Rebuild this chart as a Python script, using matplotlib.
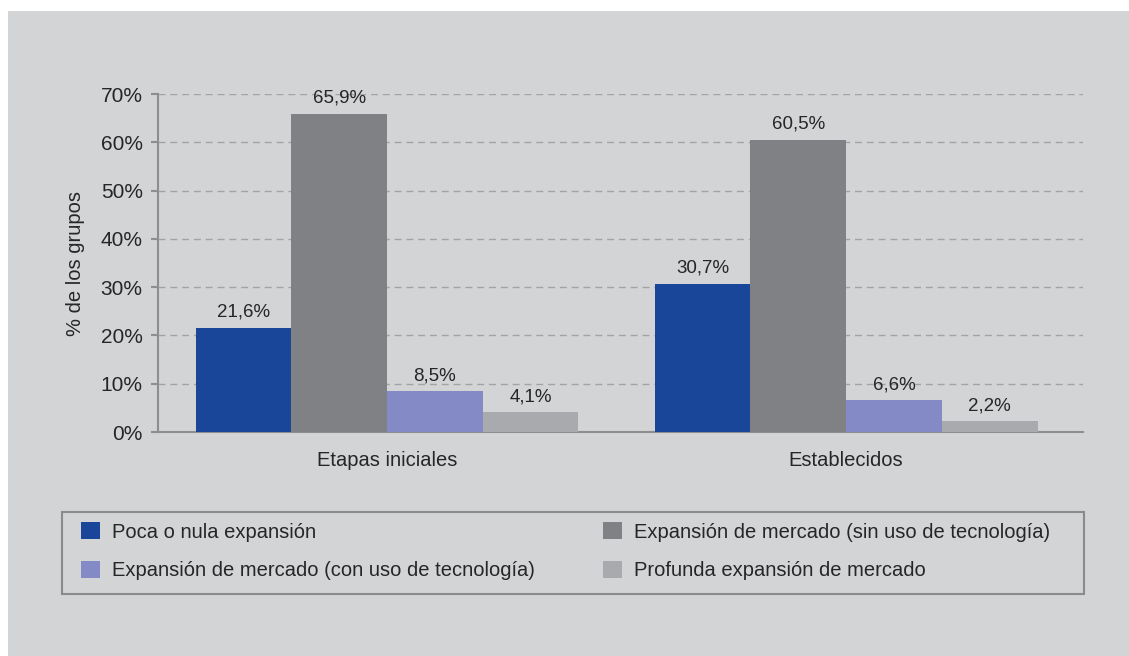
import matplotlib.pyplot as plt
from matplotlib.patches import Rectangle
import numpy as np

plt.rcParams['font.family'] = ['Liberation Sans', 'DejaVu Sans']

groups = ['Etapas iniciales', 'Establecidos']
series = ['Poca o nula expansión',
          'Expansión de mercado (sin uso de tecnología)',
          'Expansión de mercado (con uso de tecnología)',
          'Profunda expansión de mercado']
values = [
    [21.6, 30.7],
    [65.9, 60.5],
    [8.5, 6.6],
    [4.1, 2.2],
]
colors = ['#1a4699', '#808185', '#848ac5', '#a9aaad']
yticks = [0, 10, 20, 30, 40, 50, 60, 70]

bg = '#d3d4d6'
txt = '#262626'
axis_gray = '#8e8e8e'

fig = plt.figure(figsize=(11.29, 6.56), dpi=100, facecolor='white')
fig.patches.append(Rectangle((8 / 1129, 0), 1 - 8 / 1129, 1 - 11 / 656,
                             transform=fig.transFigure, facecolor=bg,
                             edgecolor='none', zorder=-10))

ax = fig.add_axes([158 / 1129, 1 - 432 / 656, 925 / 1129, 338 / 656])
ax.set_facecolor(bg)

x = np.arange(len(groups))
w = 0.2085
bars = []
for i, (vals, c, name) in enumerate(zip(values, colors, series)):
    b = ax.bar(x + (i - 1.5) * w, vals, w, color=c, label=name, zorder=3)
    bars.append(b)
    for rect, v in zip(b, vals):
        ax.annotate(f'{v:.1f}%'.replace('.', ','),
                    (rect.get_x() + rect.get_width() / 2, rect.get_height()),
                    xytext=(0, 5), textcoords='offset points',
                    ha='center', va='bottom', fontsize=13.5, color=txt)

ax.set_xlim(-0.499, 1.516)
ax.set_ylim(0, 70)
ax.set_yticks(yticks)
ax.set_yticklabels([f'{t}%' for t in yticks])
ax.set_xticks(x)
ax.set_xticklabels(groups)

ax.yaxis.grid(True, linestyle=(0, (5, 3.5)), color='#a3a3a3', linewidth=1, zorder=1)
ax.set_axisbelow(True)

for s in ['top', 'right']:
    ax.spines[s].set_visible(False)
for s in ['left', 'bottom']:
    ax.spines[s].set_color(axis_gray)
    ax.spines[s].set_linewidth(1.5)

ax.tick_params(axis='y', length=5, width=1.5, color=axis_gray, pad=6,
               labelsize=15, labelcolor=txt)
ax.tick_params(axis='x', length=0, pad=14, labelsize=14.5, labelcolor=txt)
ax.set_ylabel('% de los grupos', fontsize=14.5, color=txt, labelpad=11)

# legend with a separate frame box
fig.patches.append(Rectangle((62 / 1129, 1 - 594 / 656), (1084 - 62) / 1129, (594 - 512) / 656,
                             transform=fig.transFigure, facecolor='none',
                             edgecolor='#8a8a8a', linewidth=1.5, zorder=5))
handles = [bars[0], bars[2], bars[1], bars[3]]
labels = [series[0], series[2], series[1], series[3]]
fig.legend(handles, labels, ncol=2, frameon=False, fontsize=14.5,
           loc='upper left', bbox_to_anchor=(81 / 1129, 1 - 522 / 656),
           borderaxespad=0, borderpad=0,
           handlelength=0.95, handleheight=0.95, handletextpad=0.6,
           columnspacing=3.35, labelspacing=0.95, labelcolor=txt)

fig.savefig('out.png', dpi=100, facecolor='white')
